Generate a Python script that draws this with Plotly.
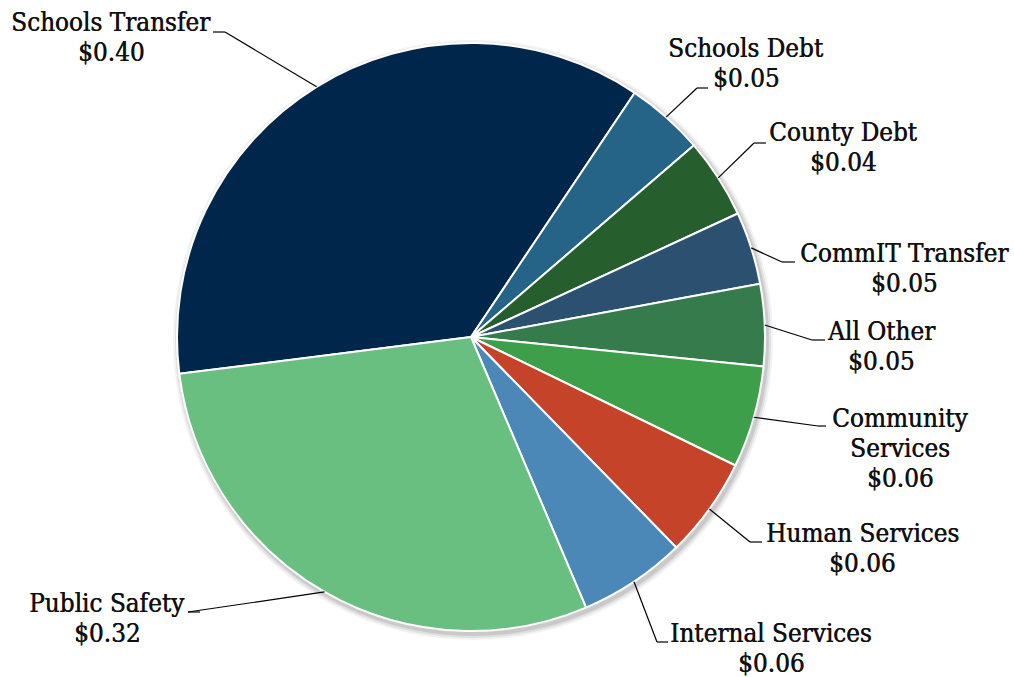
import math
import plotly.graph_objects as go

# ---- data ----
categories = ["Schools Transfer", "Schools Debt", "County Debt", "CommIT Transfer",
              "All Other", "Community Services", "Human Services",
              "Internal Services", "Public Safety"]
shares = [0.364, 0.043, 0.044, 0.040, 0.045, 0.056, 0.055, 0.059, 0.294]
amount_labels = ["$0.40", "$0.05", "$0.04", "$0.05", "$0.05", "$0.06", "$0.06", "$0.06", "$0.32"]
label_lines = [["Schools Transfer"], ["Schools Debt"], ["County Debt"], ["CommIT Transfer"],
               ["All Other"], ["Community", "Services"], ["Human Services"],
               ["Internal Services"], ["Public Safety"]]

# ---- styling / layout ----
colors = ["#00264B", "#266487", "#265E2D", "#2C5170", "#367B4B",
          "#3E9F4B", "#C54329", "#4B88B8", "#69BF80"]
W, H = 1014, 677
CX, CY, R = 471, 337, 294
ROTATION = 262.8
FONT = "DejaVu Serif Condensed, DejaVu Serif"
FSIZE = 25.8
LINE_SP = 30
# label placement: (text center x, first line center y, leader horizontal y, text-side x, elbow x)
label_pos = [
    (111, 22, 32, 213, 225),
    (746, 48, 88, 708, 697),
    (843, 132, 143, 766, 754),
    (904, 253, 262, 795, 782),
    (881, 331, 340, 825, 812),
    (900, 418, 426, 826, 818),
    (862, 533, 542, 762, 750),
    (771, 633, 642, 668, 657),
    (107, 603, 612, 200, 188),
]

def dom(cx, cy, r):
    return dict(x=[(cx - r) / W, (cx + r) / W], y=[(H - cy - r) / H, (H - cy + r) / H])

fig = go.Figure()

# soft shadow
for dr, op in [(6, 0.05), (4, 0.07), (2, 0.10)]:
    fig.add_trace(go.Pie(values=[1], marker=dict(colors=[f"rgba(0,0,0,{op})"]),
                         domain=dom(CX + 2, CY + 3, R + dr), textinfo="none",
                         hoverinfo="skip", sort=False, showlegend=False))

fig.add_trace(go.Pie(
    labels=categories, values=shares, sort=False, direction="clockwise",
    rotation=ROTATION, domain=dom(CX, CY, R), textinfo="none",
    marker=dict(colors=colors, line=dict(color="white", width=2)),
    showlegend=False, hovertemplate="%{label}<extra></extra>"))

# leader lines + labels, anchored to slice mid-angles
total = sum(shares)
start = ROTATION
shapes, annotations = [], []
for i, v in enumerate(shares):
    span = v / total * 360
    mid = math.radians(start + span / 2)
    start += span
    sx, sy = CX + R * math.sin(mid), CY - R * math.cos(mid)
    tcx, ty, ly, tx, ex = label_pos[i]
    shapes.append(dict(type="line", xref="x", yref="y", x0=sx, y0=sy, x1=ex, y1=ly,
                       line=dict(color="black", width=1.2)))
    shapes.append(dict(type="line", xref="x", yref="y", x0=ex, y0=ly, x1=tx, y1=ly,
                       line=dict(color="black", width=1.2)))
    lines = label_lines[i] + [amount_labels[i]]
    for k, t in enumerate(lines):
        annotations.append(dict(x=tcx, y=ty + k * LINE_SP, xref="x", yref="y", text=t,
                                showarrow=False, xanchor="center", yanchor="middle",
                                font=dict(family=FONT, size=FSIZE, color="#111111",
                                          shadow="0.5px 0 0 #111111")))

fig.update_layout(
    width=W, height=H, margin=dict(l=0, r=0, t=0, b=0),
    paper_bgcolor="white", plot_bgcolor="white",
    xaxis=dict(range=[0, W], visible=False, fixedrange=True),
    yaxis=dict(range=[H, 0], visible=False, fixedrange=True),
    shapes=shapes, annotations=annotations,
)
fig.write_html("out.html")
